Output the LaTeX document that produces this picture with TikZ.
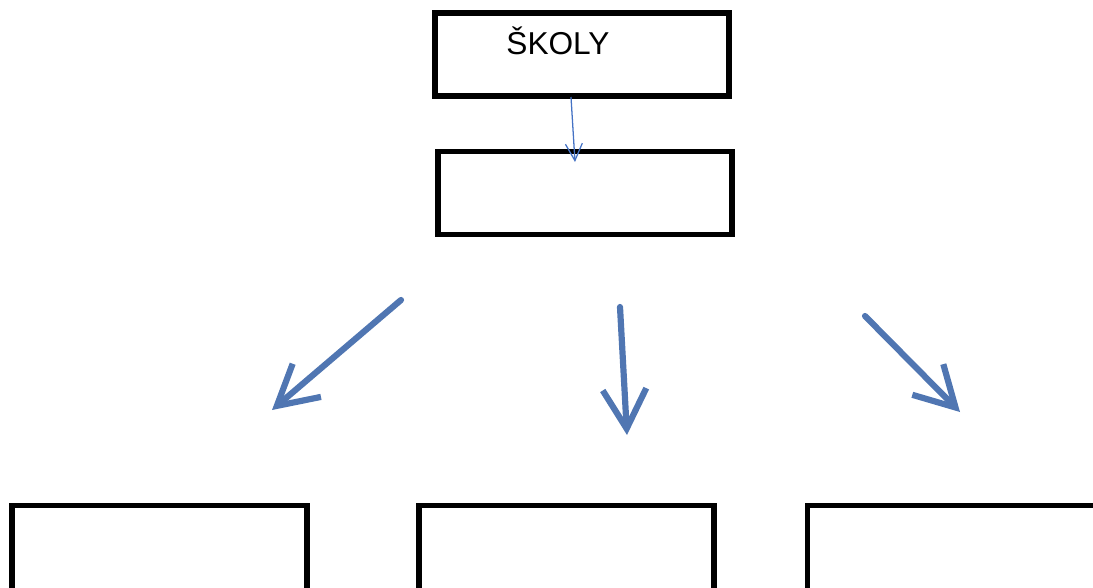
\documentclass[tikz,border=0pt]{standalone}
\usepackage{fontspec}
\setmainfont{Liberation Sans}
\usetikzlibrary{arrows.meta,positioning}
\definecolor{arrowblue}{RGB}{68,114,196}
\definecolor{bigblue}{RGB}{80,118,178}

\begin{document}
\begin{tikzpicture}[x=0.025cm,y=-0.025cm,
        box/.style={draw,line width=3.8pt,minimum width=7.35cm,minimum height=2.08cm,inner sep=0pt},
        lowbox/.style={box,minimum width=7.37cm,minimum height=3cm},
        thinarrow/.style={-{Straight Barb[length=12pt,width=12pt]},color=arrowblue,line width=0.9pt},
        bigarrow/.style={-{Straight Barb[length=28pt,width=31pt]},color=bigblue,line width=4.4pt,line cap=round}]
        \useasboundingbox (0,0) rectangle (1093,587);
        \clip (0,0) rectangle (1093,587);

        \node[box] (skoly) at (582,54.5) {};
        \node[box] (mid) at (585,193) {};
        \node[anchor=base,font=\fontsize{22.5}{26}\selectfont] (title) at (558,54.5) {ŠKOLY};

        \foreach \n/\x in {left/159.5, centre/566.5, right/955}
        {
            \node[lowbox] (\n) at (\x,565.5) {};
        };

        \coordinate (s0) at (571,97);
        \coordinate (s1) at (575,162);
        \draw[thinarrow] (s0) -- (s1);

        \foreach \n/\xa/\ya/\xb/\yb in
        {a/401/300/272/410,
         b/620/307/627/435,
         c/865/316/960/412}
        {
            \coordinate (\n0) at (\xa,\ya);
            \coordinate (\n1) at (\xb,\yb);
            \draw[bigarrow] (\n0) -- (\n1);
        };
\end{tikzpicture}
\end{document}
